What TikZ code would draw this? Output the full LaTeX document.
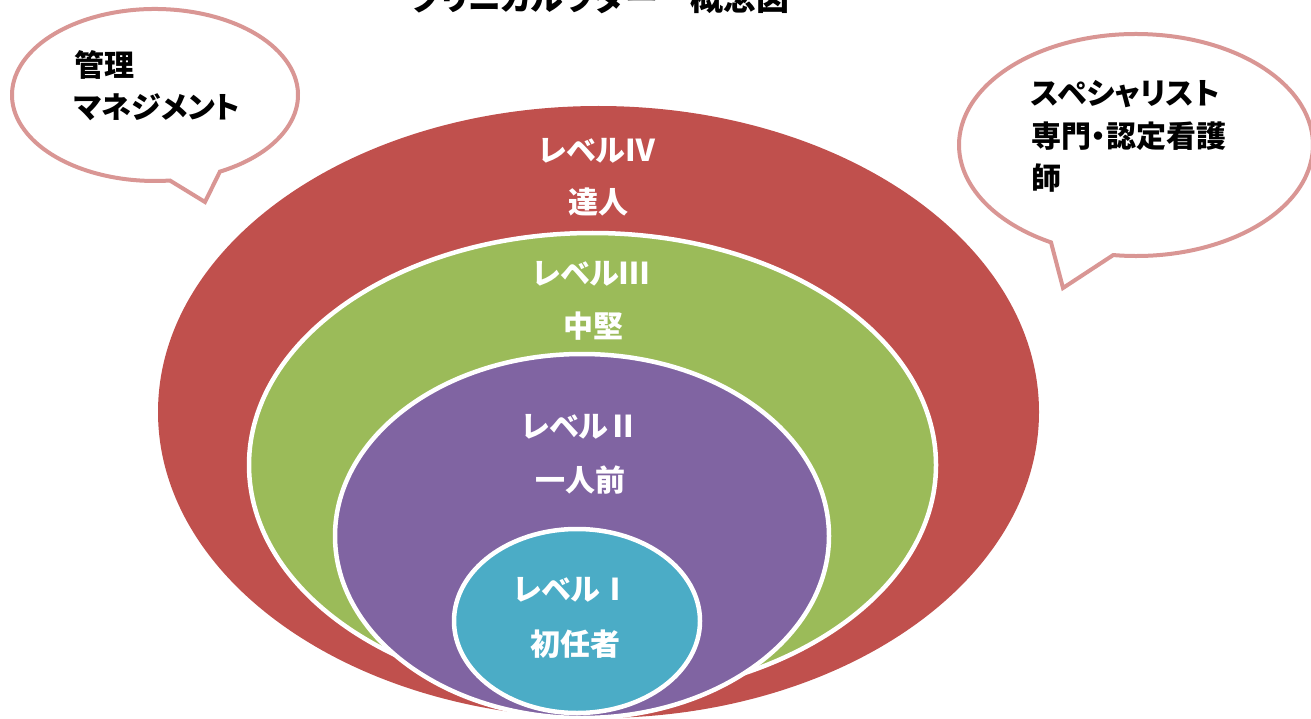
\documentclass[tikz,border=0pt]{standalone}
\usepackage{fontspec}
\setmainfont{Noto Sans CJK JP}[RawFeature={+palt}]
\definecolor{lvfour}{HTML}{C0504D}
\definecolor{lvthree}{HTML}{9BBB59}
\definecolor{lvtwo}{HTML}{8064A2}
\definecolor{lvone}{HTML}{4BACC6}
\definecolor{bubble}{HTML}{D99694}
\begin{document}
\begin{tikzpicture}[x=1pt,y=-1pt,
  ring/.style={draw=white, line width=4.5pt},
  lvlabel/.style={text=white, font=\bfseries\fontsize{30}{30}\selectfont, anchor=base, inner sep=0pt},
  bubbletext/.style={text=black, font=\bfseries\fontsize{30}{30}\selectfont, anchor=base west, inner sep=0pt},
  bubbleline/.style={draw=bubble, line width=4pt, fill=white, line join=miter}]
\useasboundingbox (0,0) rectangle (1311,719);
\clip (0,0) rectangle (1311,719);
% title (cut off at the top edge)
\node[font=\bfseries\fontsize{33}{33}\selectfont, anchor=base, inner sep=0pt] (title) at (600,11) {クリニカルラダー　概念図};
% nested levels
\fill[lvfour] (598.5,412) ellipse [x radius=440.5pt, y radius=306pt];
\filldraw[ring, fill=lvthree] (592.5,465) ellipse [x radius=343.5pt, y radius=232pt];
\filldraw[ring, fill=lvtwo] (582,536) ellipse [x radius=247pt, y radius=182pt];
\filldraw[ring, fill=lvone] (577,621) ellipse [x radius=123pt, y radius=92pt];
% callouts
\coordinate (lc) at (155,95);
\coordinate (ltip) at (205,202);
\draw[bubbleline] ([shift={(-63:143pt and 86pt)}]lc) arc[start angle=-63, end angle=276, x radius=143pt, y radius=86pt] -- (ltip) -- cycle;
\coordinate (rc) at (1136,145);
\coordinate (rtip) at (1063,288);
\draw[bubbleline] ([shift={(-97.4:177pt and 111pt)}]rc) arc[start angle=-97.4, end angle=241.3, x radius=177pt, y radius=111pt] -- (rtip) -- cycle;
% callout texts
\node[bubbletext] (m1) at (74,77) {管理};
\node[bubbletext] (m2) at (74,119) {マネジメント};
\node[bubbletext] (s1) at (1031,105) {スペシャリスト};
\node[bubbletext] (s2) at (1031,148) {専門・認定看護};
\node[bubbletext] (s3) at (1031,190) {師};
% level labels
\node[lvlabel] (l4a) at (597,162) {レベルⅣ};
\node[lvlabel] (l4b) at (598,214) {達人};
\node[lvlabel] (l3a) at (591,284) {レベルⅢ};
\node[lvlabel] (l3b) at (593,337) {中堅};
\node[lvlabel] (l2a) at (580,437) {レベルⅡ};
\node[lvlabel] (l2b) at (580,491) {一人前};
\node[lvlabel] (l1a) at (572,600) {レベルⅠ};
\node[lvlabel] (l1b) at (575,655) {初任者};
\end{tikzpicture}
\end{document}
